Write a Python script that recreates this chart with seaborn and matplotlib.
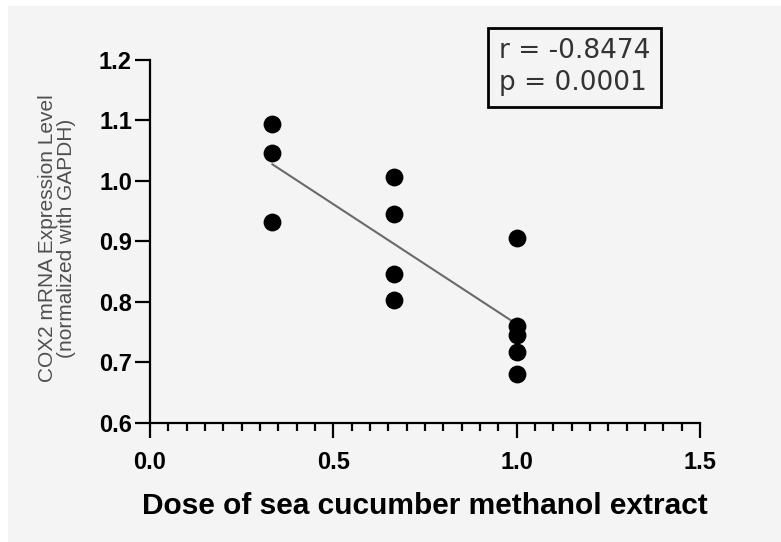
import numpy as np
import pandas as pd
import matplotlib
matplotlib.use("Agg")
import matplotlib.pyplot as plt
from matplotlib.patches import Rectangle
from matplotlib.ticker import MultipleLocator, FormatStrFormatter
import seaborn as sns

# values
dose_low = [1 / 3] * 3
dose_mid = [2 / 3] * 4
dose_high = [1.0] * 5
cox2_low = [1.095, 1.047, 0.932]
cox2_mid = [1.006, 0.946, 0.846, 0.803]
cox2_high = [0.905, 0.760, 0.745, 0.717, 0.681]

r_text = "r = -0.8474"
p_text = "p = 0.0001"

BG = "#f4f4f4"

df = pd.DataFrame({
    "dose": dose_low + dose_mid + dose_high,
    "cox2": cox2_low + cox2_mid + cox2_high,
})

sns.set_style("ticks")
plt.rcParams['font.family'] = ['Liberation Sans', 'DejaVu Sans']

fig = plt.figure(figsize=(7.81, 5.42), dpi=100, facecolor="white")
fig.patches.append(Rectangle((8 / 781, 0), 1 - 8 / 781, 1 - 6 / 542,
                             transform=fig.transFigure, facecolor=BG,
                             edgecolor="none", zorder=-10))
ax = fig.add_axes([150 / 781, 1 - 423 / 542, 550 / 781, 363 / 542])
ax.set_facecolor(BG)

sns.regplot(data=df, x="dose", y="cox2", ax=ax, ci=None,
            scatter_kws=dict(s=165, color="black", linewidths=0, zorder=3, alpha=1),
            line_kws=dict(color="#6a6a6a", lw=1.5, zorder=2))

ax.set_xlim(0, 1.5)
ax.set_ylim(0.6, 1.2)
ax.xaxis.set_major_locator(MultipleLocator(0.5))
ax.xaxis.set_minor_locator(MultipleLocator(0.05))
ax.yaxis.set_major_locator(MultipleLocator(0.1))
ax.xaxis.set_major_formatter(FormatStrFormatter("%.1f"))
ax.yaxis.set_major_formatter(FormatStrFormatter("%.1f"))

for side in ["top", "right"]:
    ax.spines[side].set_visible(False)
for side in ["left", "bottom"]:
    ax.spines[side].set_linewidth(1.6)
    ax.spines[side].set_color("black")

ax.tick_params(axis="both", which="major", length=11, width=1.6, color="black",
               labelsize=17, labelcolor="black")
ax.tick_params(axis="x", which="minor", length=6, width=1.6, color="black")
ax.tick_params(axis="x", which="major", pad=9)
ax.tick_params(axis="y", which="major", pad=2)
for lab in ax.get_xticklabels() + ax.get_yticklabels():
    lab.set_fontweight("bold")

ax.set_xlabel("Dose of sea cucumber methanol extract", fontsize=21.5,
              fontweight="bold", color="black", labelpad=13)
ax.set_ylabel("")
fig.text(57 / 781, 1 - 238 / 542, "COX2 mRNA Expression Level\n(normalized with GAPDH)",
         rotation=90, ha="center", va="center", multialignment="center",
         fontsize=15, color="#505050", linespacing=1.05)

ax.text(499 / 781, 1 - 67.5 / 542, r_text + "\n" + p_text, transform=fig.transFigure,
        ha="left", va="center", fontsize=19, color="#333333", linespacing=1.3,
        family=["DejaVu Sans"],
        bbox=dict(boxstyle="square,pad=0.4", facecolor=BG, edgecolor="black", lw=2))

fig.savefig("out.png", dpi=100, facecolor=fig.get_facecolor())
